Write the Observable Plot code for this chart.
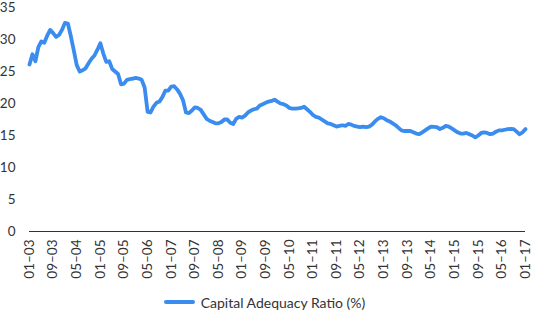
<!DOCTYPE html>
<html>
<head>
<meta charset="utf-8">
<script src="https://cdn.jsdelivr.net/npm/d3@7"></script>
<script src="https://cdn.jsdelivr.net/npm/@observablehq/plot@0.6"></script>
<style>
  html, body { margin: 0; padding: 0; background: #fff; }
  body { width: 535px; height: 312px; overflow: hidden; font-family: Lato, "Open Sans", sans-serif; }
  #legend { display: flex; align-items: center; justify-content: center; height: 40px; font-size: 14px; color: #333; margin-left: -6px; }
  #legend .sw { width: 31px; height: 4px; border-radius: 2px; background: #3a8cee; margin-right: 6px; }
</style>
</head>
<body>
<div id="chart"></div>
<div id="legend"><span class="sw"></span><span>Capital Adequacy Ratio (%)</span></div>
<script>
const seriesName = "Capital Adequacy Ratio (%)";
// Monthly values, Jan 2003 .. Jan 2017
const car = [
  26.1, 27.7, 26.6, 28.8, 29.7, 29.5, 30.6, 31.5, 31.0, 30.4, 30.7, 31.5,
  32.6, 32.5, 30.5, 28.3, 26.0, 25.0, 25.2, 25.5, 26.3, 27.0, 27.5, 28.4,
  29.4, 27.8, 26.5, 26.6, 25.4, 25.0, 24.6, 23.0, 23.1, 23.7, 23.8, 23.9,
  24.0, 23.9, 23.7, 22.5, 18.7, 18.6, 19.5, 20.1, 20.3, 21.0, 22.0, 22.0,
  22.65, 22.7, 22.2, 21.5, 20.5, 18.6, 18.5, 18.9, 19.4, 19.3, 19.0, 18.3,
  17.6, 17.3, 17.1, 16.9, 16.9, 17.1, 17.5, 17.5, 17.0, 16.8, 17.6, 17.9,
  17.8, 18.1, 18.6, 18.9, 19.1, 19.2, 19.7, 19.9, 20.1, 20.3, 20.4, 20.6,
  20.3, 20.0, 19.9, 19.7, 19.3, 19.2, 19.2, 19.25, 19.3, 19.5, 19.1, 18.7,
  18.2, 17.9, 17.8, 17.5, 17.2, 16.9, 16.8, 16.6, 16.4, 16.5, 16.6, 16.5,
  16.8, 16.7, 16.5, 16.4, 16.3, 16.4, 16.3, 16.4, 16.7, 17.2, 17.6, 17.85,
  17.7, 17.4, 17.2, 16.9, 16.6, 16.2, 15.8, 15.7, 15.7, 15.7, 15.5, 15.3,
  15.2, 15.5, 15.8, 16.1, 16.4, 16.35, 16.3, 16.0, 16.2, 16.5, 16.4, 16.1,
  15.8, 15.5, 15.3, 15.3, 15.4, 15.2, 15.0, 14.7, 15.0, 15.4, 15.5, 15.4,
  15.2, 15.3, 15.6, 15.8, 15.8, 15.9, 16.0, 16.05, 16.0, 15.6, 15.2, 15.5,
  16.0
];
const tickLabels = ["01–03","09–03","05–04","01–05","09–05","05–06","01–07","09–07","05–08","01–09","09–09",
                    "05–10","01–11","09–11","05–12","01–13","09–13","05–14","01–15","09–15","05–16","01–17"];
const tickStep = 8;
const yTicks = [0, 5, 10, 15, 20, 25, 30, 35];

const data = car.map((v, i) => ({i, v}));
const tickIdx = tickLabels.map((_, k) => k * tickStep);

const chart = Plot.plot({
  width: 535,
  height: 282,
  marginTop: 7,
  marginBottom: 51,
  marginLeft: 29,
  marginRight: 10,
  style: {fontFamily: "Lato, 'Open Sans', sans-serif", fontSize: "13px", color: "#333", background: "#fff"},
  x: {domain: [0, car.length - 1]},
  y: {domain: [0, 35]},
  marks: [
    Plot.axisY({ticks: yTicks, tickSize: 0, tickPadding: 14, label: null, fontSize: 13.5}),
    Plot.axisX({ticks: tickIdx, tickFormat: d => tickLabels[d / tickStep], tickSize: 0, tickPadding: 8, tickRotate: -90, label: null, fontSize: 13.5}),
    Plot.ruleY([0], {stroke: "#333", strokeWidth: 1.2}),
    Plot.line(data, {x: "i", y: "v", stroke: "#3a8cee", strokeWidth: 3.8, strokeLinejoin: "round", strokeLinecap: "round"})
  ]
});
document.getElementById("chart").appendChild(chart);
</script>
</body>
</html>
